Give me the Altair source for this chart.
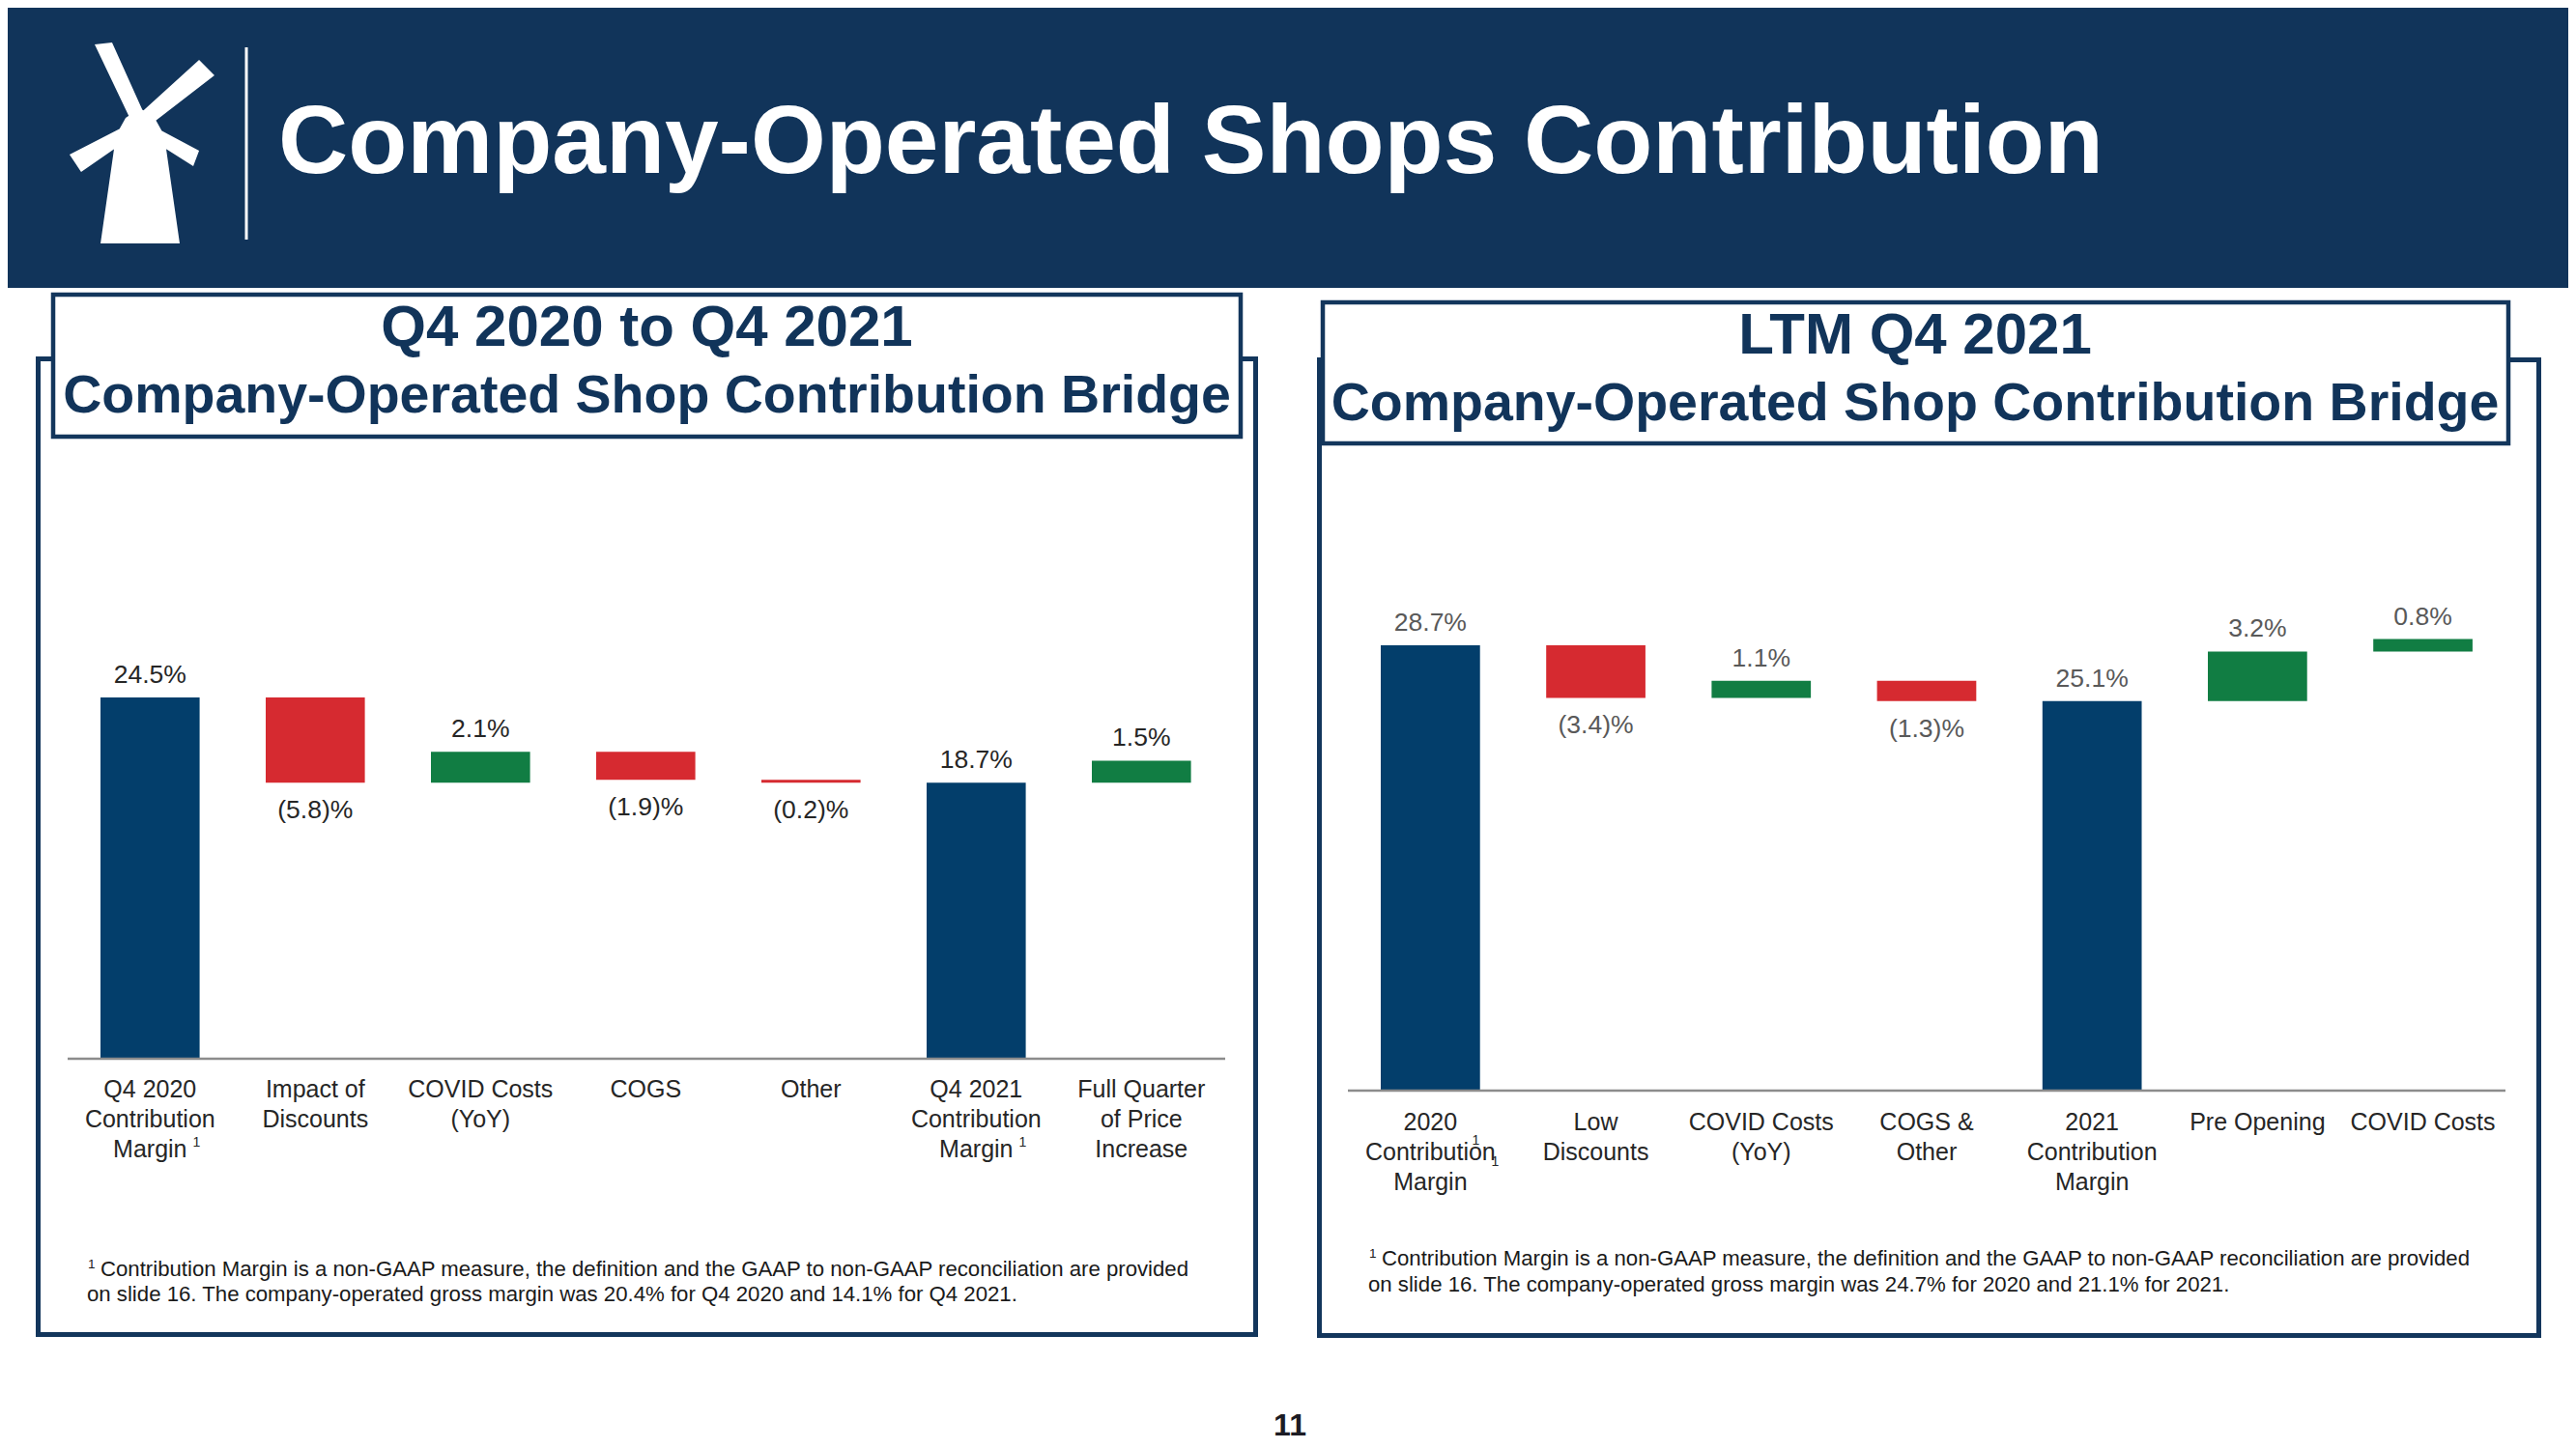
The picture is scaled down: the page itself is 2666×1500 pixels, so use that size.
import altair as alt

# ---------------- data ----------------
left_cats = ["Q4 2020 Contribution Margin", "Impact of Discounts", "COVID Costs (YoY)", "COGS",
             "Other", "Q4 2021 Contribution Margin", "Full Quarter of Price Increase"]
left_lines = [["Q4 2020", "Contribution", "Margin"], ["Impact of", "Discounts"], ["COVID Costs", "(YoY)"],
              ["COGS"], ["Other"], ["Q4 2021", "Contribution", "Margin"], ["Full Quarter", "of Price", "Increase"]]
left_values = [24.5, -5.8, 2.1, -1.9, -0.2, 18.7, 1.5]
left_total = [True, False, False, False, False, True, False]

right_cats = ["2020 Contribution Margin", "Low Discounts", "COVID Costs (YoY)", "COGS & Other",
              "2021 Contribution Margin", "Pre Opening", "COVID Costs"]
right_lines = [["2020", "Contribution", "Margin"], ["Low", "Discounts"], ["COVID Costs", "(YoY)"],
               ["COGS &", "Other"], ["2021", "Contribution", "Margin"], ["Pre Opening"], ["COVID Costs"]]
right_values = [28.7, -3.4, 1.1, -1.3, 25.1, 3.2, 0.8]
right_total = [True, False, False, False, True, False, False]

title_main = "Company-Operated Shops Contribution"
left_title = ["Q4 2020 to Q4 2021", "Company-Operated Shop Contribution Bridge"]
right_title = ["LTM Q4 2021", "Company-Operated Shop Contribution Bridge"]
foot_line1 = "Contribution Margin is a non-GAAP measure, the definition and the GAAP to non-GAAP reconciliation are provided"
left_foot2 = "on slide 16. The company-operated gross margin was 20.4% for Q4 2020 and 14.1% for Q4 2021."
right_foot2 = "on slide 16. The company-operated gross margin was 24.7% for 2020 and 21.1% for 2021."
page_no = "11"

# ---------------- style ----------------
FONT = "Liberation Sans"
HDR = "#11345a"
BORDER = "#13365c"
NAVY_BAR = "#033e6b"
RED = "#d62a30"
GREEN = "#117d43"
W, H = 2650, 1484


def waterfall_rows(cats, lines, values, totals):
    rows, run = [], 0.0
    for c, l, v, t in zip(cats, lines, values, totals):
        if t:
            lo, hi, run = 0.0, v, v
        else:
            start = run
            run = round(run + v, 4)
            lo, hi = min(start, run), max(start, run)
        kind = "total" if t else ("up" if v > 0 else "down")
        label = f"{v:.1f}%" if v >= 0 else f"({abs(v):.1f})%"
        rows.append(dict(cat=c, text="\n".join(l), lo=lo, hi=hi, kind=kind, label=label, zero=0))
    return rows


def group(rows, cats, xr, yd, yr, label_color, cat_dy, rule_x, sups):
    xs = alt.Scale(domain=cats, range=xr, paddingInner=0.4, paddingOuter=0)
    ys = alt.Scale(domain=yd, range=yr, nice=False, zero=False)
    X = alt.X("cat:N", scale=xs, axis=None)
    base = alt.Chart(alt.Data(values=rows))
    bars = base.mark_bar().encode(
        x=X,
        y=alt.Y("lo:Q", scale=ys, axis=None),
        y2="hi:Q",
        color=alt.Color("kind:N", scale=alt.Scale(domain=["total", "up", "down"],
                                                  range=[NAVY_BAR, GREEN, RED]), legend=None),
    )
    rule = alt.Chart(alt.Data(values=[{"zero": 0}])).mark_rule(
        color="#8c8c8c", strokeWidth=2.5, yOffset=1
    ).encode(y=alt.Y("zero:Q", scale=ys, axis=None), x=alt.value(rule_x[0]), x2=alt.value(rule_x[1]))
    pos = base.transform_filter("datum.kind != 'down'").mark_text(
        baseline="alphabetic", dy=-15, font=FONT, fontSize=26.5, color=label_color
    ).encode(x=X, y=alt.Y("hi:Q", scale=ys, axis=None), text="label:N")
    neg = base.transform_filter("datum.kind == 'down'").mark_text(
        baseline="alphabetic", dy=37, font=FONT, fontSize=26.5, color=label_color
    ).encode(x=X, y=alt.Y("lo:Q", scale=ys, axis=None), text="label:N")
    catl = base.mark_text(
        baseline="alphabetic", dy=cat_dy, lineBreak="\n", lineHeight=31, font=FONT,
        fontSize=25, color="#262626"
    ).encode(x=X, y=alt.Y("zero:Q", scale=ys, axis=None), text="text:N")
    layers = [bars, rule, pos, neg, catl]
    for cat, dx, dy in sups:
        layers.append(
            alt.Chart(alt.Data(values=[{"cat": cat, "zero": 0}])).mark_text(
                text="1", baseline="alphabetic", dx=dx, dy=dy, font=FONT, fontSize=14, color="#262626"
            ).encode(x=X, y=alt.Y("zero:Q", scale=ys, axis=None))
        )
    return alt.layer(*layers)


one = alt.Data(values=[{"k": 1}])


def deco():
    return alt.Chart(one)


def rect(x, x2, y, y2, **kw):
    return deco().mark_rect(**kw).encode(x=alt.value(x), x2=alt.value(x2), y=alt.value(y), y2=alt.value(y2))


def text(t, x, y, size, color, weight="normal", align="left"):
    return deco().mark_text(text=t, align=align, baseline="alphabetic", font=FONT, fontSize=size,
                            fontWeight=weight, color=color).encode(x=alt.value(x), y=alt.value(y))


# windmill logo as a custom symbol path (unit coords)
def to_path(polys, cx, cy, s):
    parts = []
    for poly in polys:
        pts = [f"{(px - cx) / s:.3f} {(py - cy) / s:.3f}" for px, py in poly]
        parts.append("M " + " L ".join(pts) + " Z")
    return " ".join(parts)


logo_polys = [
    [(104, 252), (120, 140), (130, 122), (145, 112), (160, 122), (170, 140), (186, 252)],
    [(98, 46), (116, 44), (152, 124), (138, 130)],
    [(206, 62), (222, 78), (152, 132), (140, 122)],
    [(140, 125), (146, 135), (84, 178), (72, 160)],
    [(146, 124), (206, 156), (200, 172), (140, 134)],
]
logo_path = to_path(logo_polys, 145, 148, 104)
logo = deco().mark_point(shape=logo_path, filled=True, color="white", opacity=1, size=208 * 208,
                         strokeWidth=0).encode(x=alt.value(137), y=alt.value(140))

header = rect(0, W, 0, 290, color=HDR)
sep = deco().mark_rule(color="white", strokeWidth=3).encode(
    x=alt.value(247), x2=alt.value(247), y=alt.value(41), y2=alt.value(240))
title = text(title_main, 280, 171, 100, "white", "bold")

outer_l = rect(31.5, 1291.5, 363.5, 1373.5, fill="white", stroke=BORDER, strokeWidth=5)
outer_r = rect(1357.5, 2619.5, 364.5, 1374.5, fill="white", stroke=BORDER, strokeWidth=5)
tbox_l = rect(47, 1276, 297, 444, fill="white", stroke=BORDER, strokeWidth=4.5)
tbox_r = rect(1361, 2588, 305, 451, fill="white", stroke=BORDER, strokeWidth=4.5)

tl1 = text(left_title[0], 661.5, 350, 60, HDR, "bold", "center")
tl2 = text(left_title[1], 661.5, 419, 55.5, HDR, "bold", "center")
tr1 = text(right_title[0], 1974, 358, 60, HDR, "bold", "center")
tr2 = text(right_title[1], 1974, 427, 55.5, HDR, "bold", "center")

left_group = group(
    waterfall_rows(left_cats, left_lines, left_values, left_total), left_cats,
    [96, 96 + 171 * 6.6], [0, 24.5], [1087, 714], "#262626", 41, (62, 1260),
    [("Q4 2020 Contribution Margin", 48, 92), ("Q4 2021 Contribution Margin", 48, 92)],
)
right_group = group(
    waterfall_rows(right_cats, right_lines, right_values, right_total), right_cats,
    [1421, 1421 + 171.2 * 6.6], [0, 28.7], [1120, 660], "#595959", 42, (1387, 2585),
    [("2020 Contribution Margin", 47, 57), ("2020 Contribution Margin", 67, 79)],
)

FOOT = 22.2
foot = [
    text("1", 83, 1305, 13.5, "#1a1a1a"), text(foot_line1, 96, 1313, FOOT, "#1a1a1a"),
    text(left_foot2, 82, 1339, FOOT, "#1a1a1a"),
    text("1", 1409, 1294, 13.5, "#1a1a1a"), text(foot_line1, 1422, 1302, FOOT, "#1a1a1a"),
    text(right_foot2, 1408, 1329, FOOT, "#1a1a1a"),
]
page = text(page_no, 1327, 1478, 32, "#1c1c24", "bold", "center")

chart = alt.layer(
    header, logo, sep, title, outer_l, outer_r, tbox_l, tbox_r, tl1, tl2, tr1, tr2,
    left_group, right_group, *foot, page
).resolve_scale(x="independent", y="independent").properties(
    width=W, height=H, autosize=alt.AutoSizeParams(type="none"), padding=0, background="white"
).configure_view(strokeWidth=0)

chart.save("out.html", embed_options={"renderer": "svg", "actions": False})
